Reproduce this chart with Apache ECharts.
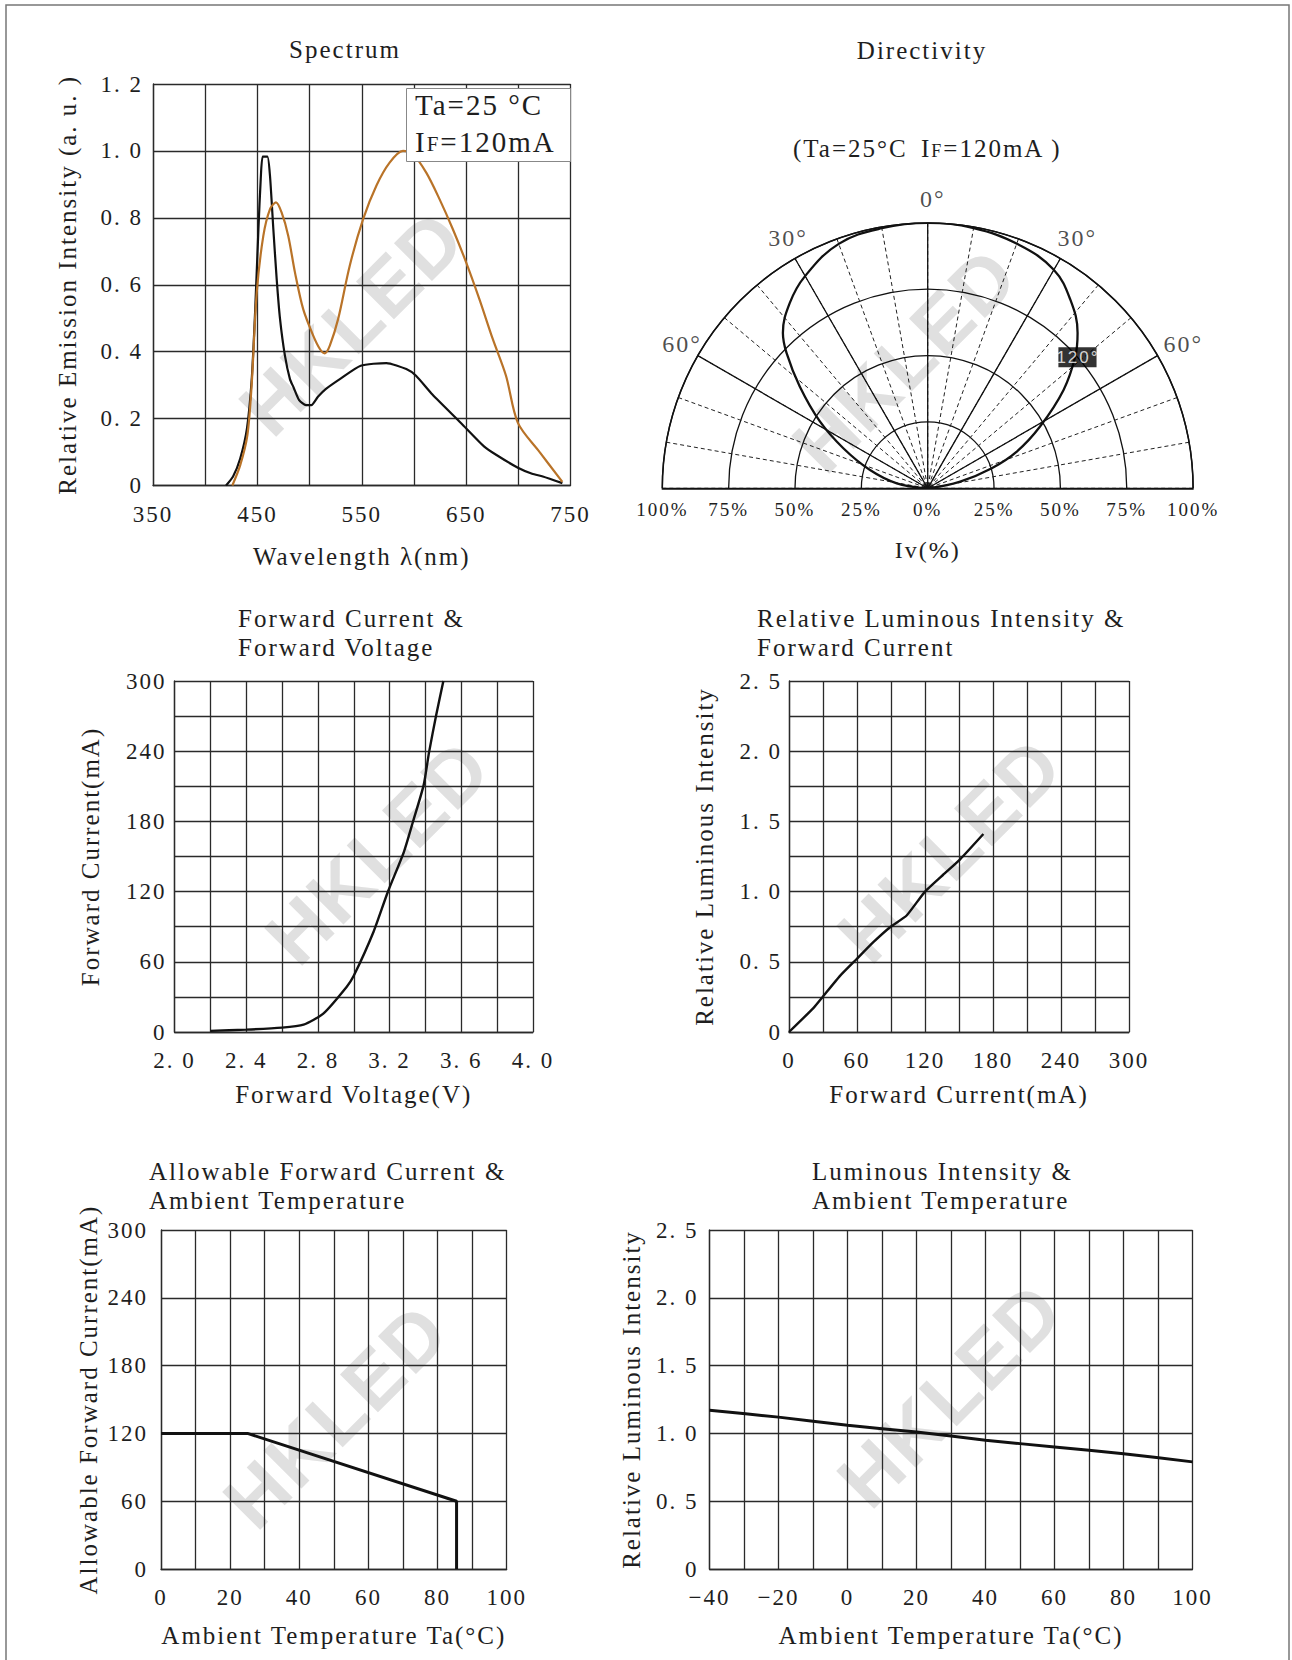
<!DOCTYPE html>
<html>
<head>
<meta charset="utf-8">
<script src="https://cdn.jsdelivr.net/npm/echarts@6/dist/echarts.min.js"></script>
<style>
html, body { margin: 0; padding: 0; background: #fff; }
#container { width: 1292px; height: 1660px; letter-spacing: 2px; }
</style>
</head>
<body>
<div id="container"></div>
<script>
// spectrum (wavelength nm / relative intensity)
var specBlackWl = [420, 426.7, 433.5, 440, 444.6, 447.8, 451, 453.2, 455.1, 459.6, 462.1, 465.3, 468.5, 471.7, 476.4, 481.2, 484.7, 490, 496.6, 501.7, 508, 515.4, 529, 549, 573.6, 592.7, 602, 617.7, 645, 667.1, 679.1, 699.6, 713.2, 723.5, 742.2];
var specBlackVal = [0, 0.027, 0.08, 0.17, 0.318, 0.517, 0.766, 0.915, 0.983, 0.983, 0.925, 0.766, 0.617, 0.498, 0.388, 0.318, 0.293, 0.255, 0.24, 0.24, 0.265, 0.288, 0.318, 0.358, 0.366, 0.348, 0.328, 0.272, 0.187, 0.117, 0.091, 0.053, 0.035, 0.027, 0.007];
var specOrangeWl = [426, 433.5, 440.4, 444.5, 449.4, 455.7, 462.1, 467.8, 473.2, 479.6, 486, 493.9, 503.5, 509.9, 514.6, 519.4, 527.4, 538.5, 551.3, 564, 576.7, 589.5, 599, 611.8, 624.5, 637.3, 650, 662.7, 675.5, 688.2, 699.6, 720.1, 742.2];
var specOrangeVal = [0, 0.06, 0.15, 0.3, 0.577, 0.746, 0.826, 0.846, 0.816, 0.746, 0.637, 0.527, 0.448, 0.408, 0.395, 0.418, 0.498, 0.657, 0.796, 0.896, 0.965, 1.0, 0.99, 0.935, 0.856, 0.766, 0.667, 0.557, 0.438, 0.328, 0.187, 0.101, 0.011];

// directivity (angle deg / Iv %)
var dirAngle = [-90, -80.8, -72.4, -64.6, -58.2, -51.5, -46.2, -43, -36.7, -30.1, -20, -10, 0, 10, 20.5, 29.9, 37.1, 44, 48.2, 54.1, 61.2, 67.6, 72.6, 78.3, 90];
var dirIv = [0, 11.8, 22.8, 35.2, 47.8, 61.6, 73.7, 80, 87, 92.3, 98, 99.5, 100, 99.5, 98, 95.1, 89.1, 81.3, 74.6, 63.2, 48.3, 36.3, 25.3, 12.5, 0];
var dirTickAngles = [-60, -30, 0, 30, 60];
var beamAngleLabel = ['120°', 48.8, 75]; // text, angle, radius

// forward current vs forward voltage
var fvVolt = [2.2, 2.4, 2.6, 2.72, 2.83, 2.96, 3.0, 3.11, 3.19, 3.28, 3.33, 3.39, 3.42, 3.46, 3.5];
var fvCurrent = [1, 2, 3.7, 6.3, 15.7, 38.5, 48, 85.5, 119.7, 154, 179.5, 211, 239, 271, 300];

// relative luminous intensity vs forward current
var rlCurrent = [0, 21.5, 29.7, 45, 59.7, 74.4, 89.7, 103.8, 120, 136, 151, 171.5];
var rlIntensity = [0, 0.17, 0.25, 0.40, 0.52, 0.64, 0.75, 0.83, 1.0, 1.12, 1.23, 1.41];

// allowable forward current vs ambient temperature
var afTemp = [0, 25, 85.5, 85.5];
var afCurrent = [120, 120, 60, 0];

// luminous intensity vs ambient temperature
var liTemp = [-40, -20, 0, 20, 40, 60, 80, 100];
var liIntensity = [1.17, 1.12, 1.06, 1.01, 0.95, 0.90, 0.85, 0.79];

var SERIF = 'Liberation Serif';
var INK = '#1e1e1e';
var GRIDC = '#2a2a2a';
var POLAR_C = [927.7, 488.3];
var POLAR_R = 265.4;

function zip(a, b) {
  var out = [];
  for (var i = 0; i < a.length; i++) out.push([a[i], b[i]]);
  return out;
}
function dec(v) {
  return Math.abs(v) < 1e-9 ? '0' : v.toFixed(1).replace('.', '. ');
}

function xAx(gi, min, max, step, fmt, name, gap) {
  return {
    type: 'value', gridIndex: gi, min: min, max: max, interval: step,
    name: name, nameLocation: 'middle', nameGap: gap,
    nameTextStyle: {fontFamily: SERIF, fontSize: 25, color: INK},
    axisLine: {show: true, onZero: false, lineStyle: {color: GRIDC, width: 1.3}},
    axisTick: {show: false},
    axisLabel: {formatter: fmt, margin: 17, fontFamily: SERIF, fontSize: 23, color: INK},
    splitLine: {show: true, lineStyle: {color: GRIDC, width: 1.3}}
  };
}
function yAx(gi, min, max, step, fmt, name, gap, margin) {
  return {
    type: 'value', gridIndex: gi, min: min, max: max, interval: step,
    name: name, nameLocation: 'middle', nameGap: gap,
    nameTextStyle: {fontFamily: SERIF, fontSize: 25, color: INK},
    axisLine: {show: true, onZero: false, lineStyle: {color: GRIDC, width: 1.3}},
    axisTick: {show: false},
    axisLabel: {formatter: fmt, margin: margin, fontFamily: SERIF, fontSize: 23, color: INK},
    splitLine: {show: true, lineStyle: {color: GRIDC, width: 1.3}}
  };
}
function titleAt(text, left, top, align) {
  return {
    text: text, left: left, top: top, padding: 0, textAlign: align || 'left',
    textStyle: {fontFamily: SERIF, fontSize: 25, fontWeight: 'normal', color: INK, lineHeight: 29}
  };
}
function mark(x, y) {
  return {
    type: 'text', x: x, y: y, rotation: Math.PI / 4, z: -10,
    style: {text: 'HKLED', fontFamily: 'Liberation Sans', fontWeight: 'bold', fontSize: 78,
            fill: '#e0e0e0', align: 'center', verticalAlign: 'middle'}
  };
}
function curve(xi, data, color, width, smooth) {
  return {
    type: 'line', xAxisIndex: xi, yAxisIndex: xi, data: data, symbol: 'none',
    smooth: smooth, lineStyle: {color: color, width: width}, z: 5, animation: false
  };
}
function hiddenAngle(pi) {
  return {polarIndex: pi, type: 'value', min: -90, max: 90, startAngle: 180, endAngle: 0, clockwise: true, show: false};
}

var dom = document.getElementById('container');
var myChart = echarts.init(dom, null, {renderer: 'svg', width: 1292, height: 1660});

var option = {
  backgroundColor: '#fff',
  animation: false,
  title: [
    titleAt('Spectrum', 345, 35, 'center'),
    titleAt('Directivity', 922, 36, 'center'),
    {
      text: '(Ta=25°C', left: 793, top: 136, padding: 0,
      textStyle: {fontFamily: SERIF, fontSize: 25, fontWeight: 'normal', color: INK}
    },
    {
      text: '{a|I}{b|F}{d|=120mA )}', left: 921, top: 136, padding: 0,
      textStyle: {rich: {
        a: {fontFamily: SERIF, fontSize: 25, fontWeight: 'normal', color: INK},
        b: {fontFamily: SERIF, fontSize: 18, fontWeight: 'normal', color: INK, padding: [4, 0, 0, 2]},
        d: {fontFamily: SERIF, fontSize: 25, fontWeight: 'normal', color: INK, padding: [0, 0, 0, 2]}
      }}
    },
    {
      text: '{a|Ta=25 °C}\n{a|I}{b|F}{d|=120mA}', left: 406, top: 84,
      backgroundColor: '#fff', borderColor: '#888', borderWidth: 1, padding: [2, 27, 6, 9],
      textStyle: {rich: {
        a: {fontFamily: SERIF, fontSize: 29, fontWeight: 'normal', color: INK, lineHeight: 37},
        b: {fontFamily: SERIF, fontSize: 21, fontWeight: 'normal', color: INK, lineHeight: 37, padding: [5, 0, 0, 2]},
        d: {fontFamily: SERIF, fontSize: 29, fontWeight: 'normal', color: INK, lineHeight: 37, padding: [0, 0, 0, 2]}
      }}
    },
    titleAt('Forward Current &\nForward Voltage', 238, 604),
    titleAt('Relative Luminous Intensity &\nForward Current', 757, 604),
    titleAt('Allowable Forward Current &\nAmbient Temperature', 149, 1157),
    titleAt('Luminous Intensity &\nAmbient Temperature', 812, 1157)
  ],
  grid: [
    {left: 153, top: 84, width: 417.5, height: 401.5},
    {left: 174.5, top: 681, width: 358.5, height: 351},
    {left: 789, top: 681, width: 340, height: 351},
    {left: 161, top: 1230, width: 345.7, height: 339},
    {left: 709.5, top: 1230, width: 483, height: 339},
    {left: 662.3, top: 223, width: 530.8, height: 265.3}
  ],
  xAxis: [
    xAx(0, 350, 750, 50, function (v) { return (v - 350) % 100 === 0 ? v : ''; }, 'Wavelength λ(nm)', 58),
    xAx(1, 2, 4, 0.2, function (v) { return Math.round(v * 10) % 4 === 0 ? dec(v) : ''; }, 'Forward Voltage(V)', 50),
    xAx(2, 0, 300, 30, function (v) { return v % 60 === 0 ? v : ''; }, 'Forward Current(mA)', 50),
    xAx(3, 0, 100, 10, function (v) { return v % 20 === 0 ? v : ''; }, 'Ambient Temperature Ta(°C)', 54),
    xAx(4, -40, 100, 10, function (v) { return (v + 40) % 20 === 0 ? (v < 0 ? '\u2212' + (-v) : v) : ''; }, 'Ambient Temperature Ta(°C)', 54),
    {
      type: 'value', gridIndex: 5, min: -100, max: 100, interval: 25,
      name: 'Iv(%)', nameLocation: 'middle', nameGap: 50,
      nameTextStyle: {fontFamily: SERIF, fontSize: 24, color: INK},
      axisLine: {show: true, lineStyle: {color: '#111', width: 1.6}},
      axisTick: {show: false},
      axisLabel: {formatter: function (v) { return Math.abs(v) + '%'; }, margin: 12,
                  fontFamily: SERIF, fontSize: 19, color: INK},
      splitLine: {show: false}
    }
  ],
  yAxis: [
    yAx(0, 0, 1.2, 0.2, dec, 'Relative Emission Intensity (a. u. )', 73, 10),
    yAx(1, 0, 300, 30, function (v) { return v % 60 === 0 ? v : ''; }, 'Forward Current(mA)', 72, 8),
    yAx(2, 0, 2.5, 0.25, function (v) { return Math.round(v * 100) % 50 === 0 ? dec(v) : ''; }, 'Relative Luminous Intensity', 72, 7),
    yAx(3, 0, 300, 60, null, 'Allowable Forward Current(mA)', 60, 13),
    yAx(4, 0, 2.5, 0.5, dec, 'Relative Luminous Intensity', 66, 11),
    {type: 'value', gridIndex: 5, min: 0, max: 1, show: false}
  ],
  polar: [
    {center: POLAR_C, radius: POLAR_R},
    {center: POLAR_C, radius: POLAR_R},
    {center: POLAR_C, radius: POLAR_R * 1.09}
  ],
  angleAxis: [
    {
      polarIndex: 0, type: 'value', min: -90, max: 90, interval: 10,
      startAngle: 180, endAngle: 0, clockwise: true,
      axisLine: {show: false}, axisTick: {show: false}, axisLabel: {show: false},
      splitLine: {show: true, lineStyle: {color: '#222', width: 1, type: [4, 3]}}
    },
    {
      polarIndex: 1, type: 'value', min: -90, max: 90, interval: 30,
      startAngle: 180, endAngle: 0, clockwise: true,
      axisLine: {show: true, lineStyle: {color: '#111', width: 1.5}},
      axisTick: {show: false},
      axisLabel: {show: false},
      splitLine: {show: true, lineStyle: {color: '#111', width: 1.3}}
    },
    hiddenAngle(2)
  ],
  radiusAxis: [
    {polarIndex: 0, type: 'value', min: 0, max: 100, show: false},
    {
      polarIndex: 1, type: 'value', min: 0, max: 100, interval: 25,
      axisLine: {show: false}, axisTick: {show: false}, axisLabel: {show: false},
      splitLine: {show: true, lineStyle: {color: '#111', width: 1.3}}
    },
    {polarIndex: 2, type: 'value', min: 0, max: 100, show: false}
  ],
  graphic: [
    mark(352, 323), mark(905, 360), mark(378, 852),
    mark(950, 850), mark(336, 1416), mark(950, 1395),
    {
      type: 'polyline', z: 10, silent: true,
      shape: {points: [[6, 1660], [6, 5], [1289, 5], [1289, 1660]]},
      style: {stroke: '#777', lineWidth: 1.5, fill: null}
    }
  ],
  series: [
    curve(0, zip(specBlackWl, specBlackVal), '#111', 2.2, 0.2),
    curve(0, zip(specOrangeWl, specOrangeVal), '#B97328', 2.2, 0.3),
    {
      type: 'line', coordinateSystem: 'polar', polarIndex: 1, symbol: 'none', smooth: 0.4,
      data: zip(dirIv, dirAngle), lineStyle: {color: '#111', width: 2.3}, z: 5, animation: false
    },
    {
      // angle labels 0°, 30°, 60° just outside the outer arc
      type: 'scatter', coordinateSystem: 'polar', polarIndex: 2, symbolSize: 0, z: 8, silent: true,
      data: dirTickAngles.map(function (a) { return [100, a]; }),
      label: {
        show: true, position: 'inside', offset: [5, 0], fontFamily: SERIF, fontSize: 24, color: INK,
        formatter: function (p) { return Math.abs(p.value[1]) + '°'; }
      }
    },
    {
      type: 'scatter', coordinateSystem: 'polar', polarIndex: 1, symbolSize: 0, z: 8, silent: true,
      data: [[beamAngleLabel[2], beamAngleLabel[1]]],
      label: {
        show: true, position: 'inside', formatter: beamAngleLabel[0],
        fontFamily: 'Liberation Sans', fontSize: 17,
        color: '#fff', backgroundColor: '#000', padding: [2, 1, 1, 2]
      }
    },
    curve(1, zip(fvVolt, fvCurrent), '#111', 2.4, 0.2),
    curve(2, zip(rlCurrent, rlIntensity), '#111', 2.4, 0.15),
    curve(3, zip(afTemp, afCurrent), '#111', 3, false),
    curve(4, zip(liTemp, liIntensity), '#111', 3, 0.2)
  ]
};

myChart.setOption(option);
</script>
</body>
</html>
